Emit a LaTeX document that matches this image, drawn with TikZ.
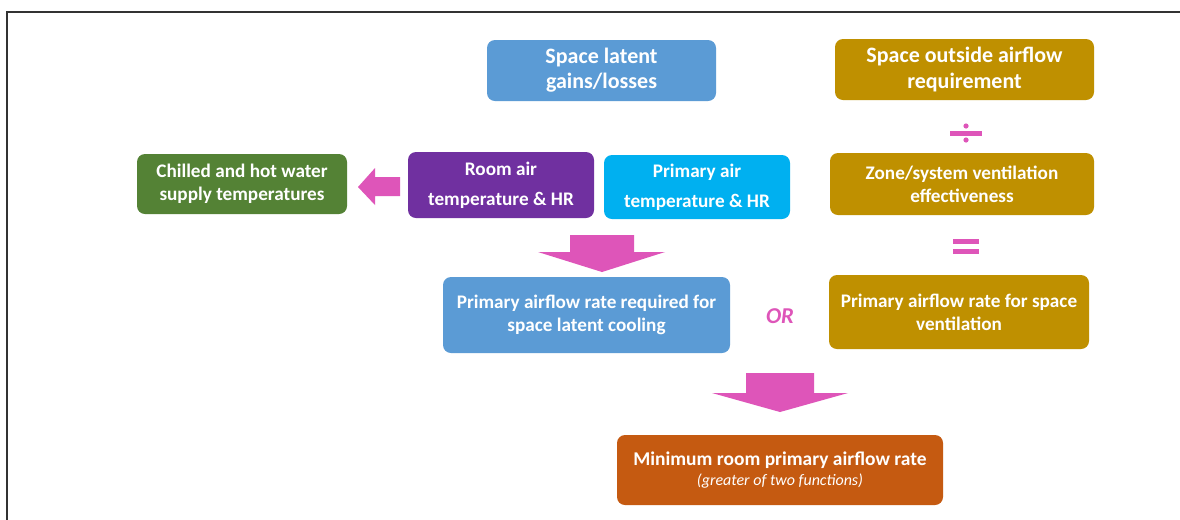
\documentclass[tikz,border=0pt]{standalone}
\usepackage{fontspec}
\setmainfont{Carlito}
\definecolor{cblue}{HTML}{5B9BD5}
\definecolor{cgold}{HTML}{BF9000}
\definecolor{cgreen}{HTML}{548235}
\definecolor{cpurple}{HTML}{7030A0}
\definecolor{ccyan}{HTML}{00B0F0}
\definecolor{corange}{HTML}{C55A11}
\definecolor{cpink}{RGB}{222,85,185}
\definecolor{cframe}{HTML}{333333}
\begin{document}
\begin{tikzpicture}[x=0.75pt,y=-0.75pt,
  box/.style={fill=#1, rounded corners=6pt, text=white, align=center, inner sep=0pt,
    font=\bfseries\fontsize{14.4}{17.5}\selectfont},
  sz/.style n args={2}{minimum width=#1*0.75pt, minimum height=#2*0.75pt},
  big/.style={font=\bfseries\fontsize{16.5}{18.8}\selectfont},
  wide/.style={font=\bfseries\fontsize{14.4}{22.5}\selectfont},
  minfont/.style={font=\bfseries\fontsize{14.6}{15}\selectfont},
  blockarrow/.style={fill=cpink, draw=none}]
\useasboundingbox (0,0) rectangle (1180,519);
\fill[white] (0,0) rectangle (1180,519);
% frame
\draw[cframe, line width=1.5pt] (6.5,530) -- (6.5,11.5) -- (1190,11.5);

% boxes
\node[box=cblue, sz={229}{61}, big] (lat) at (601.5,70.5) {Space latent\\gains/losses};
\node[box=cgold, sz={259}{61}, big] (osa) at (964.5,69.5) {Space outside airflow\\requirement};
\node[box=cgold, sz={264}{62}] (zone) at (962,184) {Zone/system ventilation\\effectiveness};
\node[box=cgold, sz={260}{74}] (pvent) at (959,312) {Primary airflow rate for space\\ventilation};
\node[box=cgreen, sz={210}{60}] (chw) at (242,184) {Chilled and hot water\\supply temperatures};
\node[box=cpurple, sz={186}{66}, wide] (room) at (501,185) {Room air\\temperature \& HR};
\node[box=ccyan, sz={186}{64}, wide] (prim) at (697,187) {Primary air\\temperature \& HR};
\node[box=cblue, sz={287}{76}] (plat) at (586.5,315) {Primary airflow rate required for\\space latent cooling};
\node[box=corange, sz={326}{70}, minfont] (minr) at (780,470) {Minimum room primary airflow rate\\{\mdseries\itshape\fontsize{12}{15}\selectfont (greater of two functions)}};

% OR
\node[text=cpink, font=\bfseries\itshape\fontsize{17}{18}\selectfont] (or) at (780,316) {OR};

% divide sign
\fill[cpink] (950,130.5) rectangle (982,135.5);
\fill[cpink] (966,126) circle (2.6);
\fill[cpink] (966,140) circle (2.6);
\node[inner sep=0pt] (divsign) at (966,133) {};
% equals sign
\fill[cpink] (953,239) rectangle (979,244);
\fill[cpink] (953,249) rectangle (979,254);
\node[inner sep=0pt] (eqsign) at (966,246.5) {};

% left block arrow (room -> chw)
\fill[blockarrow] (400,177) -- (375,177) -- (375,168) -- (358,187) -- (375,205) -- (375,196) -- (400,196) -- cycle;
% down block arrow 1
\fill[blockarrow] (570,235) -- (634,235) -- (634,252) -- (665,252) -- (602,272) -- (538,252) -- (570,252) -- cycle;
% down block arrow 2
\fill[blockarrow] (746,373) -- (814,373) -- (814,393) -- (848,393) -- (780,412) -- (712,393) -- (746,393) -- cycle;
\end{tikzpicture}
\end{document}
